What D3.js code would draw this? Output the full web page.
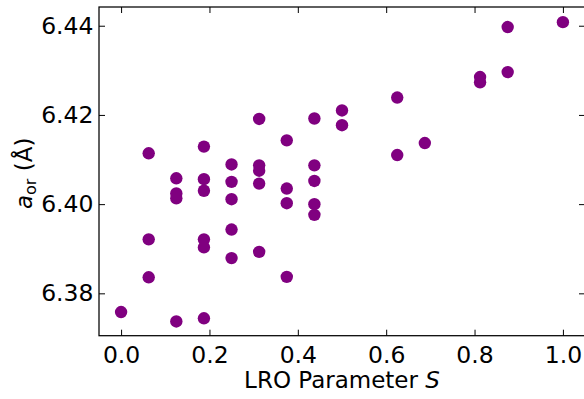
<!DOCTYPE html>
<head>
  <meta charset="utf-8">
  <title>a_or vs LRO parameter</title>
  <script src="https://d3js.org/d3.v7.min.js"></script>
  <style>
    body { margin: 0; background: #fff; }
    svg { display: block; }
    text { font-family: 'DejaVu Sans', sans-serif; fill: #000; }
    .tick line { stroke: #000; stroke-width: 1; }
    .tick text { font-size: 23.5px; }
    .domain { display: none; }
    .frame { fill: none; stroke: #000; stroke-width: 1.25; }
    .dot { fill: #800080; }
    .axis-label { font-size: 23px; }
  </style>
</head>

<body>
  <script>
    // LRO parameter S (multiples of 1/16) and lattice constant a_or in Angstrom
    var lroS = [
      0,
      0.0625, 0.0625, 0.0625,
      0.125, 0.125, 0.125, 0.125,
      0.1875, 0.1875, 0.1875, 0.1875, 0.1875, 0.1875,
      0.25, 0.25, 0.25, 0.25, 0.25,
      0.3125, 0.3125, 0.3125, 0.3125, 0.3125,
      0.375, 0.375, 0.375, 0.375,
      0.4375, 0.4375, 0.4375, 0.4375, 0.4375,
      0.5, 0.5,
      0.625, 0.625,
      0.6875,
      0.8125, 0.8125,
      0.875, 0.875,
      1.0
    ];
    var latticeA = [
      6.3758,
      6.4114, 6.3921, 6.3836,
      6.4058, 6.4024, 6.4013, 6.3737,
      6.4129, 6.4056, 6.4030, 6.3921, 6.3903, 6.3744,
      6.4089, 6.4050, 6.4011, 6.3943, 6.3879,
      6.4191, 6.4087, 6.4075, 6.4046, 6.3893,
      6.4143, 6.4035, 6.4002, 6.3837,
      6.4192, 6.4087, 6.4052, 6.4000, 6.3976,
      6.4210, 6.4177,
      6.4239, 6.4110,
      6.4137,
      6.4285, 6.4273,
      6.4397, 6.4296,
      6.4408
    ];
    var xTicks = [0, 0.2, 0.4, 0.6, 0.8, 1.0];
    var yTicks = [6.38, 6.40, 6.42, 6.44];

    var W = 584, H = 399;
    var plot = {left: 99, right: 585, top: 7, bottom: 335.7};

    var svg = d3.select("body").append("svg")
      .attr("width", W)
      .attr("height", H);

    var x = d3.scaleLinear()
      .domain([-0.05, 1.05])
      .range([plot.left, plot.right]);

    var y = d3.scaleLinear()
      .domain([6.3705, 6.4442])
      .range([plot.bottom, plot.top]);

    var tickLen = 6;

    svg.append("g")
      .attr("transform", "translate(0," + plot.bottom + ")")
      .call(d3.axisBottom(x).tickValues(xTicks).tickFormat(d3.format(".1f"))
        .tickSizeInner(-tickLen).tickSizeOuter(0).tickPadding(11));

    svg.append("g")
      .attr("transform", "translate(0," + plot.top + ")")
      .call(d3.axisTop(x).tickValues(xTicks).tickFormat("")
        .tickSizeInner(-tickLen).tickSizeOuter(0));

    svg.append("g")
      .attr("transform", "translate(" + plot.left + ",0)")
      .call(d3.axisLeft(y).tickValues(yTicks).tickFormat(d3.format(".2f"))
        .tickSizeInner(-tickLen).tickSizeOuter(0).tickPadding(5.5));

    svg.append("g")
      .attr("transform", "translate(" + plot.right + ",0)")
      .call(d3.axisRight(y).tickValues(yTicks).tickFormat("")
        .tickSizeInner(-tickLen).tickSizeOuter(0));

    svg.selectAll(".tick text").attr("fill", "#000");

    // right spine sits just past the picture edge
    svg.append("rect")
      .attr("class", "frame")
      .attr("x", plot.left)
      .attr("y", plot.top)
      .attr("width", plot.right + 1 - plot.left)
      .attr("height", plot.bottom - plot.top);

    svg.append("g")
      .selectAll("circle")
      .data(lroS.map((s, i) => ({s: s, a: latticeA[i]})))
      .enter().append("circle")
        .attr("class", "dot")
        .attr("cx", d => x(d.s))
        .attr("cy", d => y(d.a))
        .attr("r", 6.2);

    // x label
    var xl = svg.append("text")
      .attr("class", "axis-label")
      .attr("x", (plot.left + plot.right) / 2)
      .attr("y", 388)
      .attr("text-anchor", "middle");
    xl.append("tspan").text("LRO Parameter ");
    xl.append("tspan").style("font-style", "italic").text("S");

    // y label
    var yl = svg.append("text")
      .attr("class", "axis-label")
      .attr("text-anchor", "middle")
      .attr("transform", "translate(32," + ((plot.top + plot.bottom) / 2 + 2) + ") rotate(-90)");
    yl.append("tspan").style("font-style", "italic").text("a");
    yl.append("tspan").attr("dy", 4).style("font-size", "16px").text("or");
    yl.append("tspan").attr("dy", -4).text(" (Å)");
  </script>
</body>
